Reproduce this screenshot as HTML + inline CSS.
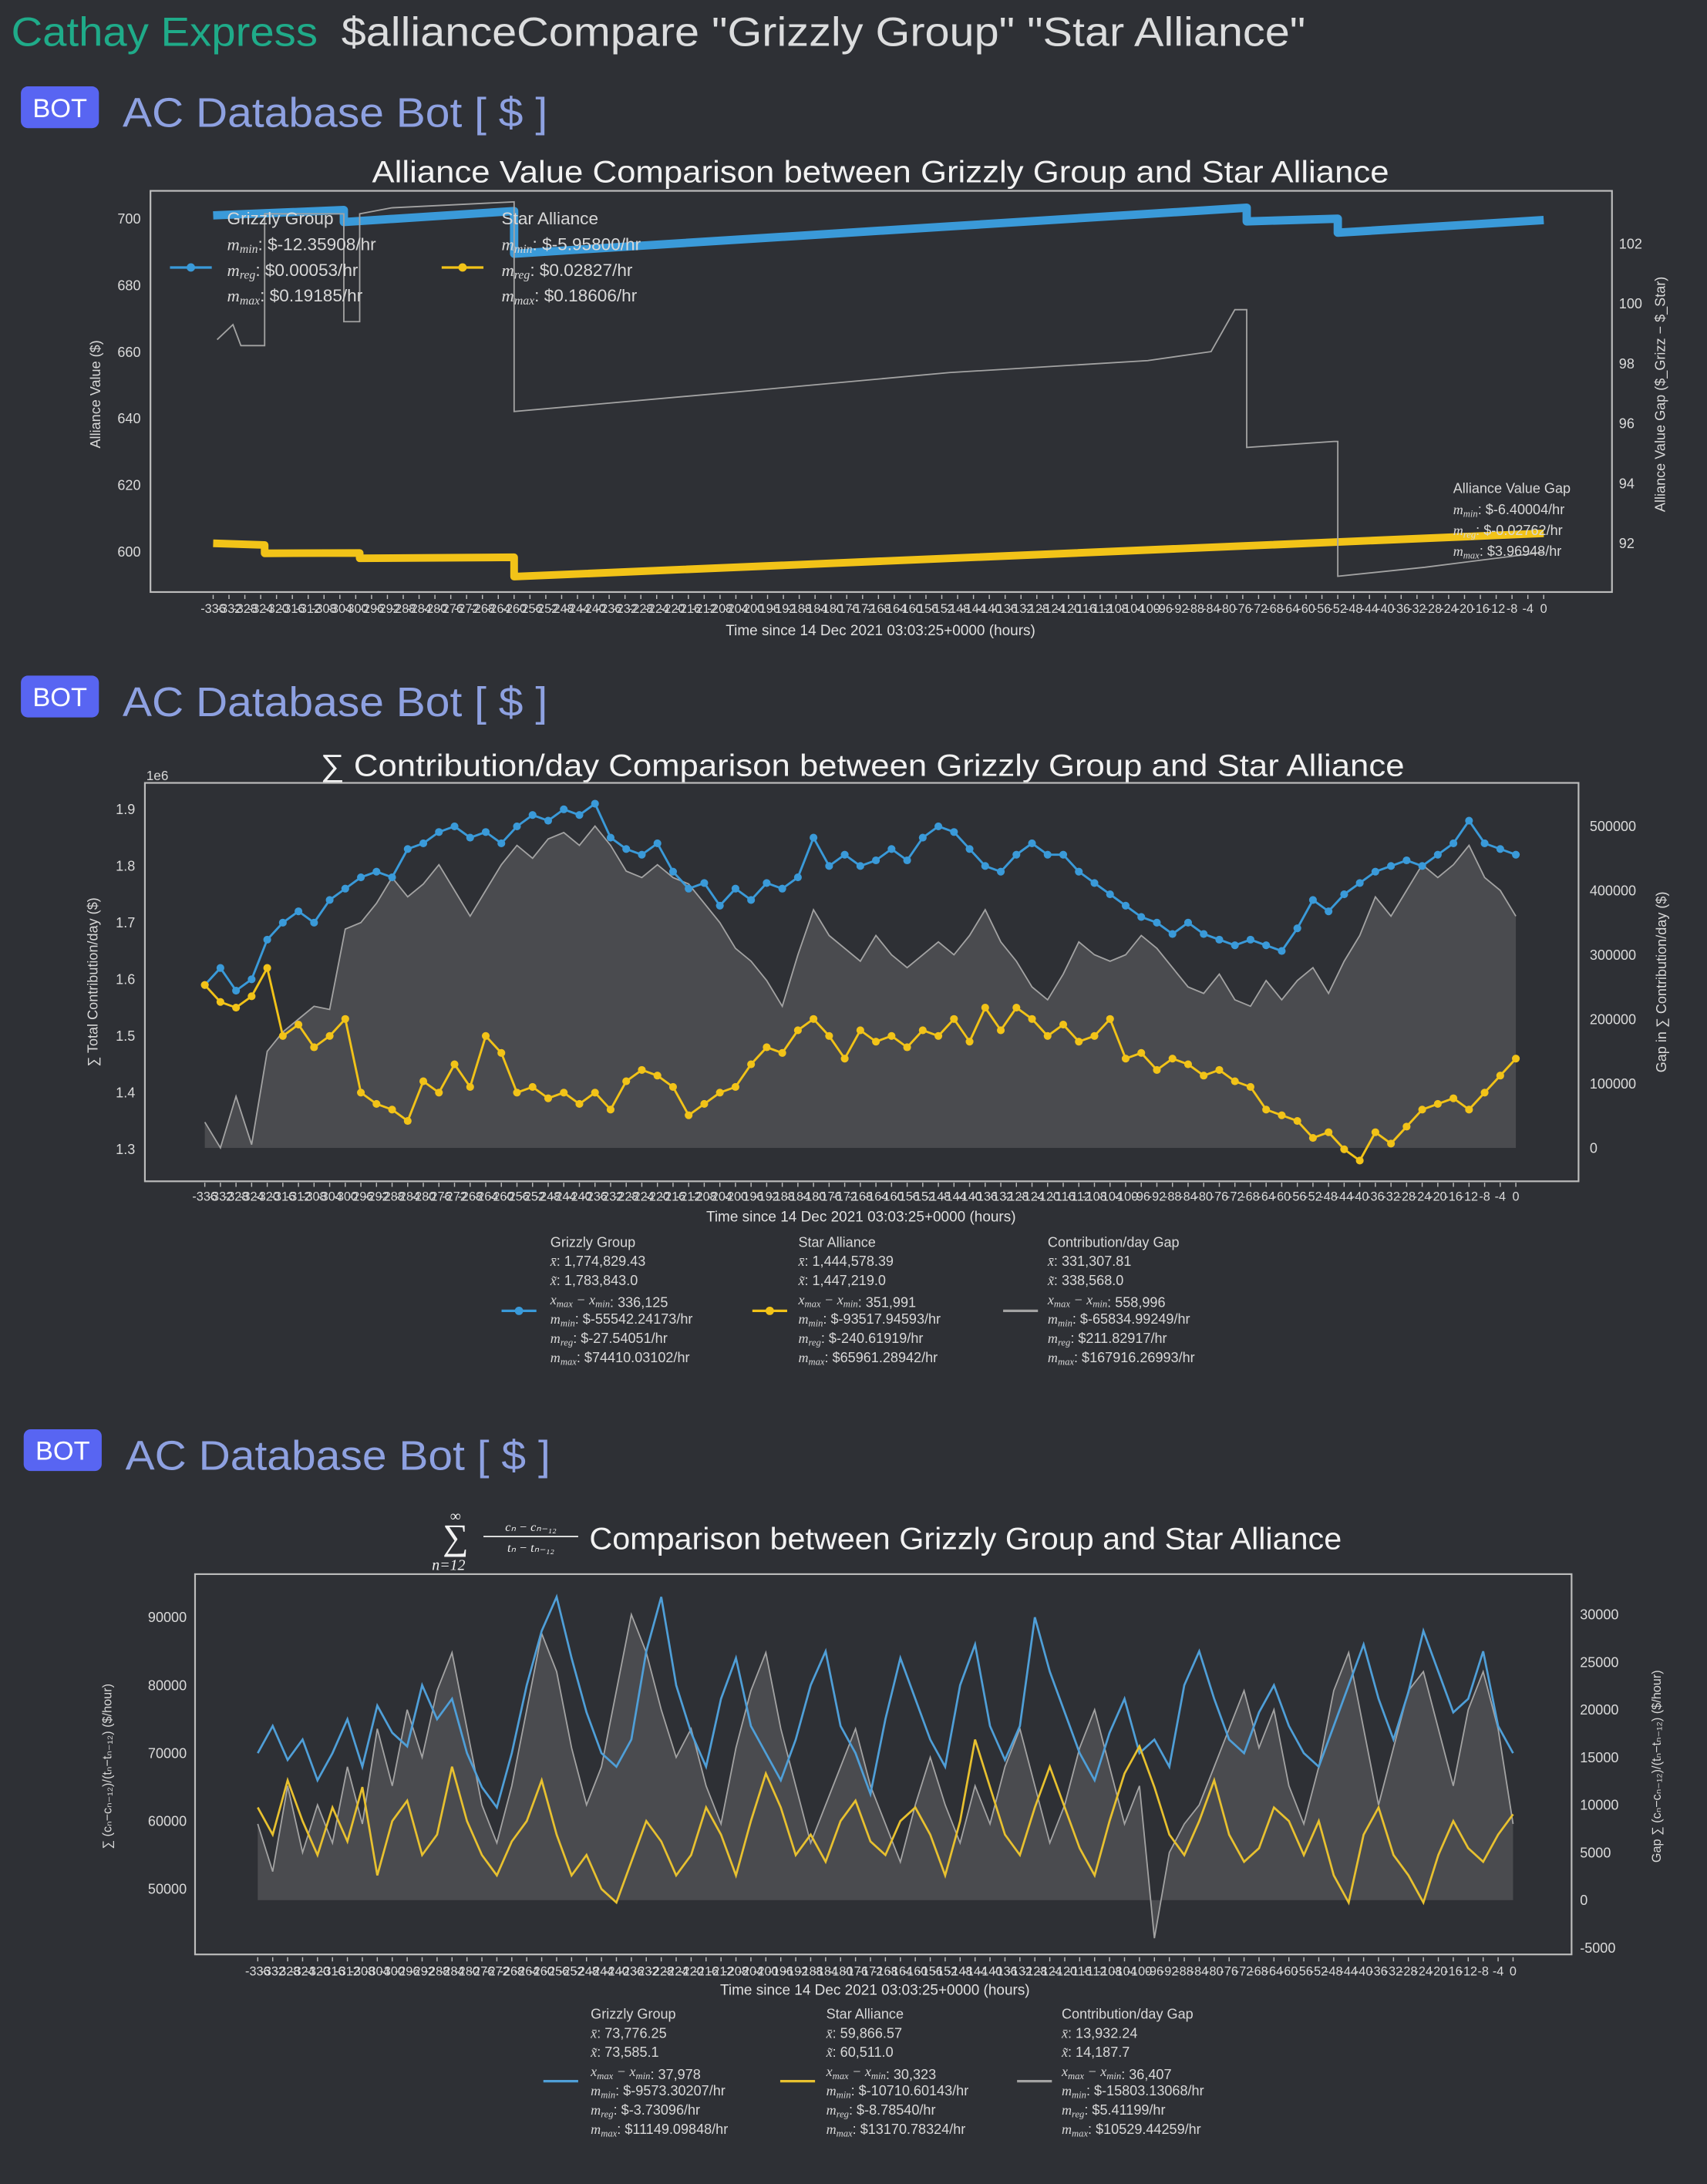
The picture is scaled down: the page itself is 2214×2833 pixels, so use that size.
<!DOCTYPE html>
<html><head><meta charset="utf-8">
<style>
html,body{margin:0;padding:0;background:#2e3035;}
svg{display:block;font-family:"Liberation Sans",sans-serif;}
</style></head>
<body>
<svg id="root" width="2214" height="2833" viewBox="0 0 1225.2 1567.8" preserveAspectRatio="none">
<rect x="0" y="0" width="1225.2" height="1567.8" fill="#2e3035"/>
<text x="8" y="33" font-size="29" fill="#1fab89" textLength="220" lengthAdjust="spacingAndGlyphs">Cathay Express</text>
<text x="245" y="33" font-size="29" fill="#dcddde" textLength="692" lengthAdjust="spacingAndGlyphs">$allianceCompare "Grizzly Group" "Star Alliance"</text>

<rect x="15" y="62" width="56" height="30" rx="5" fill="#5865f2"/>
<text x="43" y="84" font-size="19" fill="#fff" text-anchor="middle">BOT</text>
<text x="88" y="91" font-size="30" fill="#8ea1e1" textLength="305" lengthAdjust="spacingAndGlyphs">AC Database Bot [ $ ]</text>

<rect x="15" y="485" width="56" height="30" rx="5" fill="#5865f2"/>
<text x="43" y="507" font-size="19" fill="#fff" text-anchor="middle">BOT</text>
<text x="88" y="514" font-size="30" fill="#8ea1e1" textLength="305" lengthAdjust="spacingAndGlyphs">AC Database Bot [ $ ]</text>

<rect x="17" y="1026" width="56" height="30" rx="5" fill="#5865f2"/>
<text x="45" y="1048" font-size="19" fill="#fff" text-anchor="middle">BOT</text>
<text x="90" y="1055" font-size="30" fill="#8ea1e1" textLength="305" lengthAdjust="spacingAndGlyphs">AC Database Bot [ $ ]</text>

<!-- chart 1 static -->
<text x="267" y="131" font-size="22" fill="#f2f2f2" textLength="730" lengthAdjust="spacingAndGlyphs">Alliance Value Comparison between Grizzly Group and Star Alliance</text>
<rect x="108" y="137" width="1049" height="288" fill="none" stroke="#bdbdbd" stroke-width="1.2"/>
<text transform="translate(72,283) rotate(-90)" font-size="10" fill="#d8d8d8" text-anchor="middle">Alliance Value ($)</text>
<text transform="translate(1195,283) rotate(-90)" font-size="10" fill="#d8d8d8" text-anchor="middle">Alliance Value Gap ($_Grizz − $_Star)</text>
<text x="632" y="456" font-size="10.5" fill="#e0e0e0" text-anchor="middle">Time since 14 Dec 2021 03:03:25+0000 (hours)</text>

<!-- chart 2 static -->
<text x="230" y="557" font-size="22" fill="#f2f2f2" textLength="778" lengthAdjust="spacingAndGlyphs">∑ Contribution/day Comparison between Grizzly Group and Star Alliance</text>
<rect x="104" y="562" width="1029" height="286" fill="none" stroke="#bdbdbd" stroke-width="1.2"/>
<text x="105" y="560" font-size="9.5" fill="#d8d8d8">1e6</text>
<text transform="translate(70,705) rotate(-90)" font-size="10" fill="#d8d8d8" text-anchor="middle">∑ Total Contribution/day ($)</text>
<text transform="translate(1196,705) rotate(-90)" font-size="10" fill="#d8d8d8" text-anchor="middle">Gap in ∑ Contribution/day ($)</text>
<text x="618" y="877" font-size="10.5" fill="#e0e0e0" text-anchor="middle">Time since 14 Dec 2021 03:03:25+0000 (hours)</text>

<!-- chart 3 static -->
<g fill="#f2f2f2">
<text x="327" y="1112" font-size="26" text-anchor="middle" font-family="Liberation Serif">∑</text>
<text x="327" y="1092" font-size="11" text-anchor="middle" font-family="Liberation Serif">∞</text>
<text x="322" y="1127" font-size="11" text-anchor="middle" font-family="Liberation Serif" font-style="italic">n=12</text>
<text x="381" y="1099" font-size="9" text-anchor="middle" font-family="Liberation Serif" font-style="italic">cₙ − cₙ₋₁₂</text>
<line x1="347" y1="1103" x2="415" y2="1103" stroke="#f2f2f2" stroke-width="1"/>
<text x="381" y="1114" font-size="9" text-anchor="middle" font-family="Liberation Serif" font-style="italic">tₙ − tₙ₋₁₂</text>
<text x="423" y="1112" font-size="22" textLength="540" lengthAdjust="spacingAndGlyphs">Comparison between Grizzly Group and Star Alliance</text>
</g>
<rect x="140" y="1130" width="988" height="273" fill="none" stroke="#bdbdbd" stroke-width="1.2"/>
<text transform="translate(80,1268) rotate(-90)" font-size="9" fill="#d8d8d8" text-anchor="middle">∑ (cₙ−cₙ₋₁₂)/(tₙ−tₙ₋₁₂) ($/hour)</text>
<text transform="translate(1192,1268) rotate(-90)" font-size="9" fill="#d8d8d8" text-anchor="middle">Gap ∑ (cₙ−cₙ₋₁₂)/(tₙ−tₙ₋₁₂) ($/hour)</text>
<text x="628" y="1432" font-size="10.5" fill="#e0e0e0" text-anchor="middle">Time since 14 Dec 2021 03:03:25+0000 (hours)</text>
</svg>

<script>
// ---------- data ----------
// chart 1 (alliance value)
const c1BlueHours = [-336,-303,-303,-260,-260,-75,-75,-52,-52,0];
const c1BlueVals  = [701,702.6,699,702.3,689.5,703.3,699.2,700,695.8,699.6];
const c1YellowHours = [-336,-323,-323,-299,-299,-260,-260,0];
const c1YellowVals  = [602.5,602,599.5,599.6,598,598.3,592.5,605.5];
const c1GapHours = [-335,-331,-329,-323,-323,-303,-303,-299,-299,-291,-260,-260,-200,-150,-100,-84,-78,-75,-75,-53,-52,-52,-30,0];
const c1GapVals  = [98.8,99.3,98.6,98.6,103,103,99.4,99.4,103,103.2,103.4,96.4,97.1,97.7,98.1,98.4,99.8,99.8,95.2,95.4,95.4,90.9,91.2,91.7];
const c1LeftTicks = [600,620,640,660,680,700];
const c1RightTicks = [92,94,96,98,100,102];

// shared hours for charts 2 & 3 (every 4 hours)
const hours = [-336,-332,-328,-324,-320,-316,-312,-308,-304,-300,-296,-292,-288,-284,-280,-276,-272,-268,-264,-260,-256,-252,-248,-244,-240,-236,-232,-228,-224,-220,-216,-212,-208,-204,-200,-196,-192,-188,-184,-180,-176,-172,-168,-164,-160,-156,-152,-148,-144,-140,-136,-132,-128,-124,-120,-116,-112,-108,-104,-100,-96,-92,-88,-84,-80,-76,-72,-68,-64,-60,-56,-52,-48,-44,-40,-36,-32,-28,-24,-20,-16,-12,-8,-4,0];

// chart 2 (contribution/day), blue & yellow in 1e6, gap in thousands
const c2Blue = [1.59,1.62,1.58,1.60,1.67,1.70,1.72,1.70,1.74,1.76,
1.78,1.79,1.78,1.83,1.84,1.86,1.87,1.85,1.86,1.84,
1.87,1.89,1.88,1.90,1.89,1.91,1.85,1.83,1.82,1.84,
1.79,1.76,1.77,1.73,1.76,1.74,1.77,1.76,1.78,1.85,
1.80,1.82,1.80,1.81,1.83,1.81,1.85,1.87,1.86,1.83,
1.80,1.79,1.82,1.84,1.82,1.82,1.79,1.77,1.75,1.73,
1.71,1.70,1.68,1.70,1.68,1.67,1.66,1.67,1.66,1.65,
1.69,1.74,1.72,1.75,1.77,1.79,1.80,1.81,1.80,1.82,
1.84,1.88,1.84,1.83,1.82];
const c2Yellow = [1.59,1.56,1.55,1.57,1.62,1.50,1.52,1.48,1.50,1.53,
1.40,1.38,1.37,1.35,1.42,1.40,1.45,1.41,1.50,1.47,
1.40,1.41,1.39,1.40,1.38,1.40,1.37,1.42,1.44,1.43,
1.41,1.36,1.38,1.40,1.41,1.45,1.48,1.47,1.51,1.53,
1.50,1.46,1.51,1.49,1.50,1.48,1.51,1.50,1.53,1.49,
1.55,1.51,1.55,1.53,1.50,1.52,1.49,1.50,1.53,1.46,
1.47,1.44,1.46,1.45,1.43,1.44,1.42,1.41,1.37,1.36,
1.35,1.32,1.33,1.30,1.28,1.33,1.31,1.34,1.37,1.38,
1.39,1.37,1.40,1.43,1.46];
const c2Gap = [40,0,80,5,150,180,200,220,215,340,
350,380,420,390,410,440,400,360,400,440,
470,450,480,490,470,500,470,430,420,440,
420,410,380,350,310,290,260,220,300,370,
330,310,290,330,300,280,300,320,300,330,
370,320,290,250,230,270,320,300,290,300,
330,310,280,250,240,270,230,220,260,230,
260,280,240,290,330,390,360,400,440,420,
440,470,420,400,360];
const c2LeftTicks = [1.3,1.4,1.5,1.6,1.7,1.8,1.9];
const c2RightTicks = [0,100000,200000,300000,400000,500000];

// chart 3 (rolling rate), thousands
const c3Blue = [70,74,69,72,66,70,75,68,77,73,
71,80,75,78,70,65,62,70,80,88,
93,84,76,70,68,72,85,93,80,73,
68,78,84,74,70,66,72,80,85,74,
70,64,75,84,78,72,68,80,86,74,
69,74,90,82,76,70,66,73,78,70,
72,68,80,85,78,72,70,76,80,74,
70,68,74,80,86,78,72,79,88,82,
76,78,85,74,70];
const c3Yellow = [62,58,66,60,55,62,57,65,52,60,
63,55,58,68,60,55,52,57,60,66,
58,52,55,50,48,54,60,57,52,55,
62,58,52,60,67,62,55,58,54,60,
63,57,55,60,62,58,52,60,72,65,
58,55,62,68,62,56,52,60,67,71,
65,58,55,60,66,58,54,56,62,60,
55,60,52,48,58,62,55,52,48,55,
60,56,54,58,61];
const c3Gap = [8,3,12,5,10,6,14,8,18,12,
20,15,22,26,18,10,6,12,20,28,
24,16,10,14,22,30,26,20,15,18,
12,8,16,22,26,18,12,6,10,14,
18,12,8,4,10,15,10,6,12,8,
14,18,12,6,10,16,20,14,8,12,
-4,5,8,10,14,18,22,16,20,12,
8,14,22,26,18,10,16,22,24,18,
12,20,24,18,8];
const c3LeftTicks = [50000,60000,70000,80000,90000];
const c3RightTicks = [-5000,0,5000,10000,15000,20000,25000,30000];

// ---------- helpers ----------
const NS = 'http://www.w3.org/2000/svg';
const svg = document.getElementById('root');
function mk(tag, attrs, parent) {
  const e = document.createElementNS(NS, tag);
  for (const k in attrs) e.setAttribute(k, attrs[k]);
  (parent || svg).appendChild(e);
  return e;
}
function lin(d0, d1, r0, r1) { return v => r0 + (v - d0) * (r1 - r0) / (d1 - d0); }
function pts(hs, vs, xf, yf) { let s = ''; for (let i = 0; i < vs.length && i < hs.length; i++) s += xf(hs[i]).toFixed(2) + ',' + yf(vs[i]).toFixed(2) + ' '; return s; }

const BLUE = '#3a9ad9', YELLOW = '#f2c318', GRAY = '#a3a3a3', FILL = '#4a4b4f', TICK = '#dadada';

function xTicks(xf, y, prefix) {
  const g = mk('g', {});
  
  
  for (let h = -336; h <= 0; h += 4) {
    const t = mk('text', {x: xf(h), y: y, 'font-size': 9, fill: TICK, 'text-anchor': 'middle'}, g);
    t.textContent = String(h);
    
    
    const l = mk('line', {x1: xf(h), x2: xf(h), y1: y - 13, y2: y - 10, stroke: '#bdbdbd', 'stroke-width': 0.8}, g);
    
    
  }
}
function yTicks(ticks, yf, x, anchor, prefix, fmt) {
  const g = mk('g', {});
  
  
  ticks.forEach(v => {
    const t = mk('text', {x: x, y: yf(v) + 3.5, 'font-size': 10, fill: TICK, 'text-anchor': anchor}, g);
    t.textContent = fmt ? fmt(v) : String(v);
    
    
  });
}
function legend(x, y0, dy, lines, prefix, size) {
  const g = mk('g', {fill: '#d8d8d8', 'font-size': size || 10});
  
  
  lines.forEach((s, i) => {
    const t = mk('text', {x: x, y: y0 + i * dy}, g);
    t.innerHTML = s;
    
    
  });
}
function m(sub) { return '<tspan font-family="Liberation Serif" font-style="italic">m</tspan><tspan font-family="Liberation Serif" font-style="italic" font-size="0.7em" dy="2">' + sub + '</tspan><tspan dy="-2">'; }
function marker(x1, x2, y, color, dot, prefix) {
  const l = mk('line', {x1: x1, x2: x2, y1: y, y2: y, stroke: color, 'stroke-width': 1.8});
  
  
  if (dot) {
    const c = mk('circle', {cx: (x1 + x2) / 2, cy: y, r: 3, fill: color});
    
    
  }
}

// ---------- chart 1 ----------
const x1 = lin(-336, 0, 153, 1108), yL1 = lin(600, 700, 396, 157), yR1 = lin(92, 102, 390, 175);
yTicks(c1LeftTicks, yL1, 101, 'end', 'chart1-left-axis');
yTicks(c1RightTicks, yR1, 1162, 'start', 'chart1-right-axis');
xTicks(x1, 440, 'chart1');
let e;
e = mk('polyline', {points: pts(c1BlueHours, c1BlueVals, x1, yL1), fill: 'none', stroke: BLUE, 'stroke-width': 6, 'stroke-linejoin': 'round'});


e = mk('polyline', {points: pts(c1YellowHours, c1YellowVals, x1, yL1), fill: 'none', stroke: YELLOW, 'stroke-width': 5.5, 'stroke-linejoin': 'round'});


e = mk('polyline', {points: pts(c1GapHours, c1GapVals, x1, yR1), fill: 'none', stroke: GRAY, 'stroke-width': 1});


legend(163, 161, 18.5, ['Grizzly Group', m('min') + ': $-12.35908/hr</tspan>', m('reg') + ': $0.00053/hr</tspan>', m('max') + ': $0.19185/hr</tspan>'], 'chart1-legend-grizzly', 12.5);
legend(360, 161, 18.5, ['Star Alliance', m('min') + ': $-5.95800/hr</tspan>', m('reg') + ': $0.02827/hr</tspan>', m('max') + ': $0.18606/hr</tspan>'], 'chart1-legend-star', 12.5);
marker(122, 152, 192, BLUE, true, 'chart1-legend-grizzly');
marker(317, 347, 192, YELLOW, true, 'chart1-legend-star');
legend(1043, 354, 15, ['Alliance Value Gap', m('min') + ': $-6.40004/hr</tspan>', m('reg') + ': $-0.02762/hr</tspan>', m('max') + ': $3.96948/hr</tspan>'], 'chart1-legend-gap', 10);

// ---------- chart 2 ----------
const x2 = lin(-336, 0, 147, 1088), yL2 = lin(1.3, 1.9, 825, 581), yR2 = lin(0, 500000, 824, 593);
yTicks(c2LeftTicks, yL2, 97, 'end', 'chart2-left-axis', v => v.toFixed(1));
yTicks(c2RightTicks, yR2, 1141, 'start', 'chart2-right-axis');
xTicks(x2, 862, 'chart2');
const gap2k = c2Gap.map(v => v * 1000);
const gp = pts(hours, gap2k, x2, yR2);
e = mk('polygon', {points: x2(hours[0]) + ',' + yR2(0) + ' ' + gp + x2(hours[Math.min(hours.length, gap2k.length) - 1]) + ',' + yR2(0), fill: FILL});


e = mk('polyline', {points: gp, fill: 'none', stroke: GRAY, 'stroke-width': 1});


[[c2Blue, BLUE, 'chart2-grizzly'], [c2Yellow, YELLOW, 'chart2-star']].forEach(([vals, col, nm]) => {
  const pl = mk('polyline', {points: pts(hours, vals, x2, yL2), fill: 'none', stroke: col, 'stroke-width': 1.6});
  
  
  for (let i = 0; i < vals.length && i < hours.length; i++) {
    const c = mk('circle', {cx: x2(hours[i]), cy: yL2(vals[i]), r: 2.8, fill: col});
    
    
  }
});
const xb = '<tspan font-family="Liberation Serif" font-style="italic">x̄</tspan>';
const xt = '<tspan font-family="Liberation Serif" font-style="italic">x̃</tspan>';
const xr = '<tspan font-family="Liberation Serif" font-style="italic">x<tspan font-size="0.7em" dy="2">max</tspan><tspan dy="-2"> − x</tspan><tspan font-size="0.7em" dy="2">min</tspan><tspan dy="-2"></tspan></tspan>';
legend(395, 895, 13.8, ['Grizzly Group', xb + ': 1,774,829.43', xt + ': 1,783,843.0', xr + ': 336,125', m('min') + ': $-55542.24173/hr</tspan>', m('reg') + ': $-27.54051/hr</tspan>', m('max') + ': $74410.03102/hr</tspan>'], 'chart2-legend-grizzly', 10);
legend(573, 895, 13.8, ['Star Alliance', xb + ': 1,444,578.39', xt + ': 1,447,219.0', xr + ': 351,991', m('min') + ': $-93517.94593/hr</tspan>', m('reg') + ': $-240.61919/hr</tspan>', m('max') + ': $65961.28942/hr</tspan>'], 'chart2-legend-star', 10);
legend(752, 895, 13.8, ['Contribution/day Gap', xb + ': 331,307.81', xt + ': 338,568.0', xr + ': 558,996', m('min') + ': $-65834.99249/hr</tspan>', m('reg') + ': $211.82917/hr</tspan>', m('max') + ': $167916.26993/hr</tspan>'], 'chart2-legend-gap', 10);
marker(360, 385, 941, BLUE, true, 'chart2-legend-grizzly');
marker(540, 565, 941, YELLOW, true, 'chart2-legend-star');
marker(720, 745, 941, GRAY, false, 'chart2-legend-gap');

// ---------- chart 3 ----------
const x3 = lin(-336, 0, 185, 1086), yL3 = lin(50000, 90000, 1356, 1161), yR3 = lin(0, 30000, 1364, 1159);
yTicks(c3LeftTicks, yL3, 134, 'end', 'chart3-left-axis');
yTicks(c3RightTicks, yR3, 1134, 'start', 'chart3-right-axis');
xTicks(x3, 1418, 'chart3');
const gap3 = c3Gap.map(v => v * 1000);
const gp3 = pts(hours, gap3, x3, yR3);
e = mk('polygon', {points: x3(hours[0]) + ',' + yR3(0) + ' ' + gp3 + x3(hours[Math.min(hours.length, gap3.length) - 1]) + ',' + yR3(0), fill: FILL});


e = mk('polyline', {points: gp3, fill: 'none', stroke: GRAY, 'stroke-width': 1});


e = mk('polyline', {points: pts(hours, c3Blue.map(v => v * 1000), x3, yL3), fill: 'none', stroke: '#4f9fd8', 'stroke-width': 1.5});


e = mk('polyline', {points: pts(hours, c3Yellow.map(v => v * 1000), x3, yL3), fill: 'none', stroke: '#e8c12f', 'stroke-width': 1.5});


legend(424, 1449, 13.8, ['Grizzly Group', xb + ': 73,776.25', xt + ': 73,585.1', xr + ': 37,978', m('min') + ': $-9573.30207/hr</tspan>', m('reg') + ': $-3.73096/hr</tspan>', m('max') + ': $11149.09848/hr</tspan>'], 'chart3-legend-grizzly', 10);
legend(593, 1449, 13.8, ['Star Alliance', xb + ': 59,866.57', xt + ': 60,511.0', xr + ': 30,323', m('min') + ': $-10710.60143/hr</tspan>', m('reg') + ': $-8.78540/hr</tspan>', m('max') + ': $13170.78324/hr</tspan>'], 'chart3-legend-star', 10);
legend(762, 1449, 13.8, ['Contribution/day Gap', xb + ': 13,932.24', xt + ': 14,187.7', xr + ': 36,407', m('min') + ': $-15803.13068/hr</tspan>', m('reg') + ': $5.41199/hr</tspan>', m('max') + ': $10529.44259/hr</tspan>'], 'chart3-legend-gap', 10);
marker(390, 415, 1494, '#4f9fd8', false, 'chart3-legend-grizzly');
marker(560, 585, 1494, '#e8c12f', false, 'chart3-legend-star');
marker(730, 755, 1494, GRAY, false, 'chart3-legend-gap');
</script>
</body></html>
